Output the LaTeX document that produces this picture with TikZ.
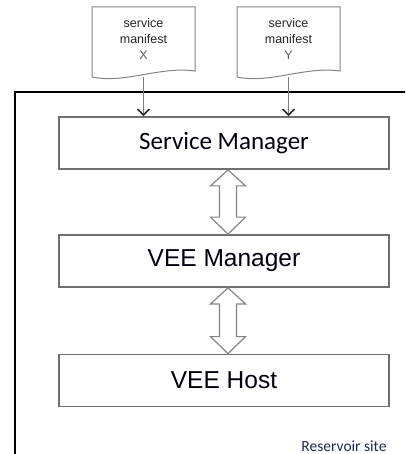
\documentclass[tikz,border=0pt]{standalone}
\usepackage{fontspec}
\setmainfont{Liberation Sans}
\newfontfamily\calibri{Carlito}
\usetikzlibrary{arrows.meta,calc}
\definecolor{boxgray}{HTML}{707070}
\definecolor{linegray}{HTML}{808080}
\definecolor{docgray}{HTML}{858585}
\definecolor{navy}{HTML}{1F2A4F}
\definecolor{lettergray}{HTML}{5A5A70}
\begin{document}
\begin{tikzpicture}[x=1pt,y=-1pt,
  layerbox/.style={draw=boxgray,line width=1.8pt,fill=white,minimum width=330pt,
    minimum height=52pt,inner sep=0pt,text=black!95!blue},
  docshape/.style={draw=docgray,line width=1pt,fill=white},
  doctext/.style={align=center,font=\fontsize{12.5}{16}\selectfont,text=black!85},
  feed/.style={draw=linegray,line width=1pt,-{Straight Barb[length=6pt,width=12pt,line width=1.5pt,color=black!85]}},
  exchange/.style={draw=docgray,line width=1.2pt,fill=white,line join=miter}]
\useasboundingbox (0,0) rectangle (405,454);
\clip (0,0) rectangle (405,454);
\fill[white] (0,0) rectangle (405,454);

% site frame, open to the right and bottom
\draw[black,line width=1.3pt] (15,470) -- (15,92) -- (420,92);
\node[anchor=base east,font=\calibri\fontsize{15.5}{18}\selectfont,text=navy] (site) at (390,451) {Reservoir site};

% layers
\node[layerbox,font=\calibri\fontsize{25}{30}\selectfont] (sm) at (224,143) {Service Manager};
\node[layerbox,font=\fontsize{24.5}{29}\selectfont] (vm) at (224,261) {VEE Manager};
\node[layerbox,font=\fontsize{24.5}{29}\selectfont] (vh) at (224,380.5) {VEE Host};

% service manifests
\draw[docshape] (92,7) -- (195,7) -- (195,71) .. controls (160,66) and (125,84) .. (92,77) -- cycle;
\node[doctext] (mx) at (143.5,39) {service\\manifest\\\textcolor{lettergray}{X}};
\coordinate (mxb) at (143.5,77);
\draw[docshape] (237,7) -- (340,7) -- (340,71) .. controls (305,66) and (270,84) .. (237,77) -- cycle;
\node[doctext] (my) at (288.5,39) {service\\manifest\\\textcolor{lettergray}{Y}};
\coordinate (myb) at (288.5,77);

\draw[feed] (mxb) -- (mxb |- sm.north);
\draw[feed] (myb) -- (myb |- sm.north);

% two-way exchanges between layers
\coordinate (c1) at (228,0);
\draw[exchange] ($(c1 |- sm.south)$) -- ++(17.5,16) -- ++(-9,0) -- ($(c1 |- vm.north)+(8.5,-17)$)
  -- ++(9,0) -- ($(c1 |- vm.north)$) -- ++(-17.5,-17) -- ++(9,0) -- ($(c1 |- sm.south)+(-8.5,16)$)
  -- ++(-9,0) -- cycle;
\draw[exchange] ($(c1 |- vm.south)$) -- ++(17.5,16) -- ++(-9,0) -- ($(c1 |- vh.north)+(8.5,-17)$)
  -- ++(9,0) -- ($(c1 |- vh.north)$) -- ++(-17.5,-17) -- ++(9,0) -- ($(c1 |- vm.south)+(-8.5,16)$)
  -- ++(-9,0) -- cycle;
\end{tikzpicture}
\end{document}
